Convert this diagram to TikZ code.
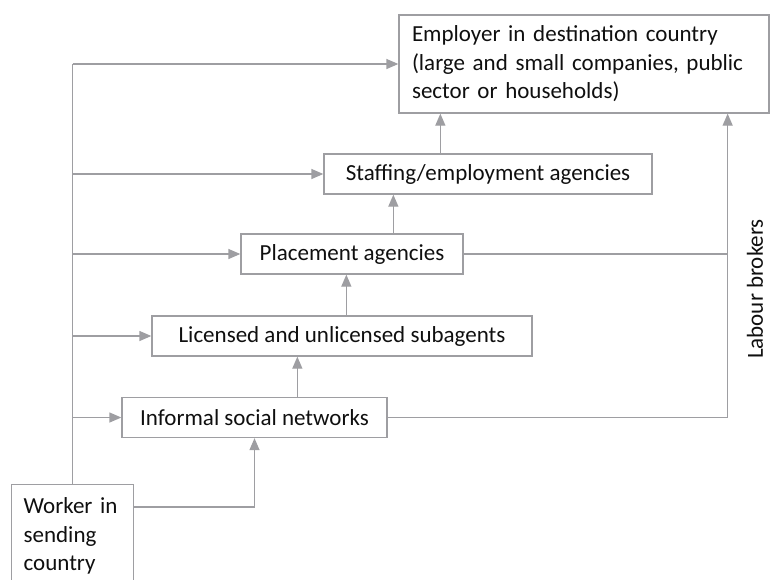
\documentclass[tikz,border=0pt]{standalone}
\usepackage{fontspec}
\setmainfont{Carlito}
\usetikzlibrary{arrows.meta,positioning,calc}
\definecolor{lgray}{RGB}{158,158,162}
\definecolor{txtdark}{RGB}{15,15,15}
\tikzset{
  box/.style={draw=lgray, line width=1.3pt, text=txtdark, inner sep=0pt,
              minimum height=40pt, align=center},
  conn/.style={lgray, line width=1.3pt},
  arr/.style={conn, -{Triangle[length=12pt,width=10pt]}},
}

\begin{document}
\begin{tikzpicture}[x=1pt, y=-1pt, font=\fontsize{23}{28.5}\selectfont]
    \useasboundingbox (0,0) rectangle (770,579);
    \node[box, minimum width=370pt, minimum height=98pt, text width=344pt, align=left] (employer) at (584,64)
      {Employer in destination country\\(large and small companies, public\\sector or households)};
    \node[box, minimum width=328pt] (staffing) at (488,174) {Staffing/employment agencies};
    \node[box, minimum width=222pt] (placement) at (352,254) {Placement agencies};
    \node[box, minimum width=380pt] (licensed) at (342,336) {Licensed and unlicensed subagents};
    \node[box, minimum width=265pt] (informal) at (254.5,417.5) {Informal social networks};
    \node[box, anchor=north west, text width=98pt, align=left, inner xsep=12pt, inner ysep=13pt] (worker) at (11,484)
      {Worker in\\sending\\country};
    \node[rotate=90, text=txtdark] (brokers) at (755,289) {Labour brokers};
    \coordinate (brk) at ([xshift=-42pt]employer.south east);

    % worker side trunk
    \draw[conn] (worker.north) -- (worker.north |- employer.west);
    \foreach \n in {employer,staffing,placement,licensed,informal}
      \draw[arr] (worker.north |- \n.west) -- (\n.west);

    % chain upwards
    \draw[arr] ([xshift=117pt]staffing.north west) -- ([xshift=117pt]staffing.north west |- employer.south);
    \draw[arr] ([xshift=153pt]placement.north west) -- ([xshift=153pt]placement.north west |- staffing.south);
    \draw[arr] ([xshift=195pt]licensed.north west) -- ([xshift=195pt]licensed.north west |- placement.south);
    \draw[arr] ([xshift=176pt]informal.north west) -- ([xshift=176pt]informal.north west |- licensed.south);
    \draw[arr] ([yshift=-23pt]worker.north east) -| (informal.south);

    % labour brokers
    \draw[conn] (placement.east) -- (placement.east -| brk);
    \draw[arr] (informal.east) -| (brk);
\end{tikzpicture}
\end{document}
